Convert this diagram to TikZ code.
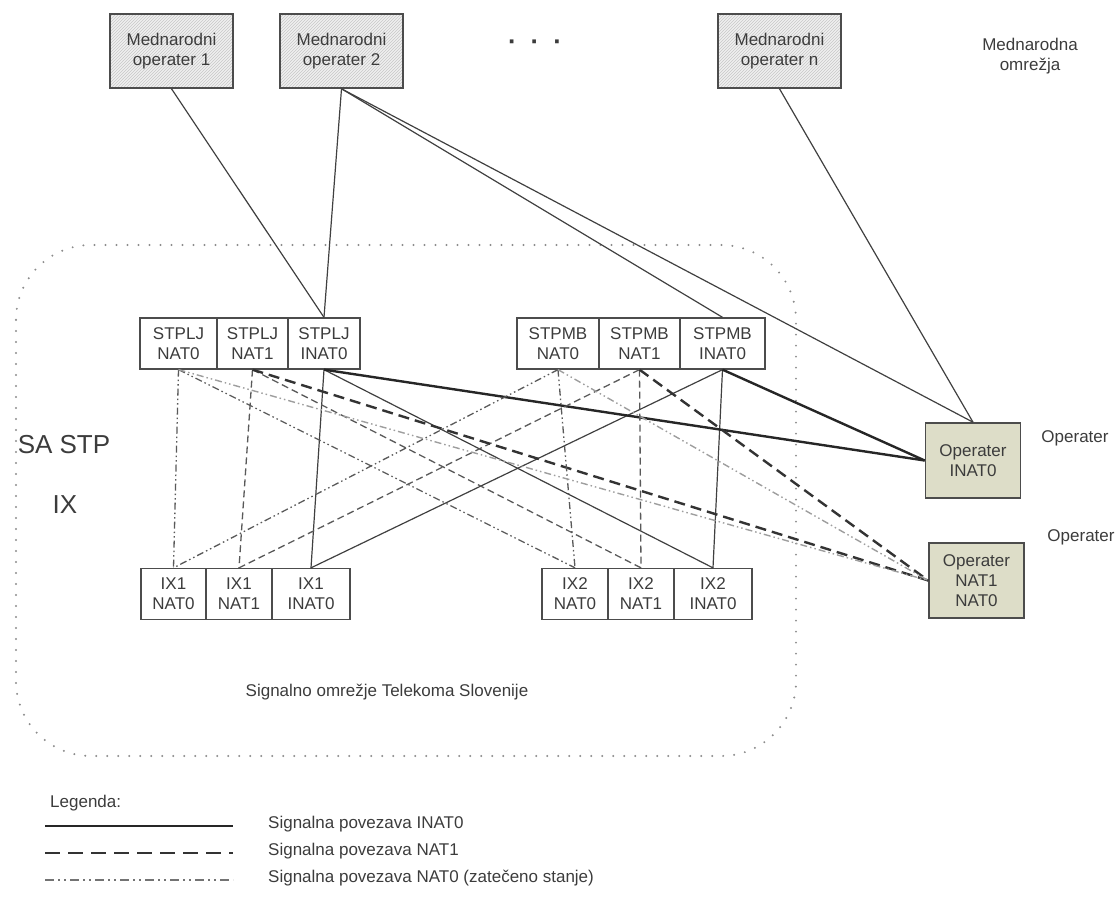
\documentclass[tikz,border=0pt]{standalone}
\usepackage{fontspec}
\setmainfont{Liberation Sans}
\usetikzlibrary{patterns}
\definecolor{opfill}{RGB}{221,221,200}
\definecolor{txt}{RGB}{60,60,60}
\begin{document}
\begin{tikzpicture}[x=1pt,y=-1pt,
  every node/.style={font=\fontsize{17}{20}\selectfont, text=txt, align=center, inner sep=0pt},
  intl/.style={draw=black!70, line width=1.6pt, preaction={fill=black!6}, pattern=north east lines, pattern color=black!22, minimum width=123pt, minimum height=74pt},
  cell/.style={draw=black!70, line width=1.3pt, fill=white, minimum height=51pt},
  opbox/.style={draw=black!70, line width=1.6pt, fill=opfill, minimum width=95pt, minimum height=75pt},
  bigl/.style={font=\fontsize{26}{30}\selectfont},
  linkthin/.style={draw=black!75, line width=1.2pt},
  linkthick/.style={draw=black!85, line width=2.4pt},
  nat1thin/.style={draw=black!65, line width=1.3pt, dash pattern=on 7pt off 4pt},
  nat1thick/.style={draw=black!80, line width=2.4pt, dash pattern=on 11pt off 6pt},
  nat0/.style={draw=black!65, line width=1.3pt, dash pattern=on 7pt off 3pt on 1.5pt off 3pt on 1.5pt off 3pt},
  nat0light/.style={draw=black!38, line width=1.4pt, dash pattern=on 7pt off 3pt on 1.5pt off 3pt on 1.5pt off 3pt},
  region/.style={draw=black!45, line width=2.2pt, line cap=round, dash pattern=on 0pt off 11pt, rounded corners=75pt}
]
\useasboundingbox (0,0) rectangle (1120,901);

% network region
\draw[region] (16,245) rectangle (796,756);

% international operators
\node[intl] (m1) at (171.5,51) {Mednarodni\\operater 1};
\node[intl] (m2) at (341.5,51) {Mednarodni\\operater 2};
\node[intl] (mn) at (779.5,51) {Mednarodni\\operater n};
\node (dots) at (535,45) {\fontsize{26}{26}\selectfont\textbf{·\hspace{14pt}·\hspace{14pt}·}};
\node (mlab) at (1030,56) {Mednarodna\\omrežja};

% STPLJ
\node[cell, minimum width=77pt] (lj1) at (178.5,343.5) {STPLJ\\NAT0};
\node[cell, minimum width=71pt] (lj2) at (252.5,343.5) {STPLJ\\NAT1};
\node[cell, minimum width=72pt] (lj3) at (324,343.5) {STPLJ\\INAT0};
% STPMB
\node[cell, minimum width=82pt] (mb1) at (558,343.5) {STPMB\\NAT0};
\node[cell, minimum width=81pt] (mb2) at (639.5,343.5) {STPMB\\NAT1};
\node[cell, minimum width=85pt] (mb3) at (722.5,343.5) {STPMB\\INAT0};
% IX1
\node[cell, minimum width=65pt] (ia1) at (173.5,594) {IX1\\NAT0};
\node[cell, minimum width=66pt] (ia2) at (239,594) {IX1\\NAT1};
\node[cell, minimum width=78pt] (ia3) at (311,594) {IX1\\INAT0};
% IX2
\node[cell, minimum width=66pt] (ib1) at (575,594) {IX2\\NAT0};
\node[cell, minimum width=66pt] (ib2) at (641,594) {IX2\\NAT1};
\node[cell, minimum width=78pt] (ib3) at (713,594) {IX2\\INAT0};

% operators
\node[opbox] (op1) at (973,460.5) {Operater\\INAT0};
\node[opbox] (op2) at (976.5,580.5) {Operater\\NAT1\\NAT0};
\node (opl1) at (1075,438) {Operater};
\node (opl2) at (1081,537) {Operater};

% labels
\node[bigl] (sastp) at (64,445) {SA STP};
\node[bigl] (ixl) at (65,505) {IX};
\node (net) at (387,692) {Signalno omrežje Telekoma Slovenije};

% international links
\draw[linkthin] (m1.south) -- (lj3.north);
\draw[linkthin] (m2.south) -- (lj3.north);
\draw[linkthin] (m2.south) -- (mb3.north);
\draw[linkthin] (m2.south) -- (op1.north);
\draw[linkthin] (mn.south) -- (op1.north);

% INAT0 links
\draw[linkthin] (lj3.south) -- (ia3.north);
\draw[linkthin] (lj3.south) -- (ib3.north);
\draw[linkthin] (mb3.south) -- (ia3.north);
\draw[linkthin] (mb3.south) -- (ib3.north);
\draw[linkthick] (lj3.south) -- (op1.west);
\draw[linkthick] (mb3.south) -- (op1.west);

% NAT1 links
\draw[nat1thin] (lj2.south) -- (ia2.north);
\draw[nat1thin] (lj2.south) -- (ib2.north);
\draw[nat1thin] (mb2.south) -- (ia2.north);
\draw[nat1thin] (mb2.south) -- (ib2.north);
\draw[nat1thick] (lj2.south) -- (op2.west);
\draw[nat1thick] (mb2.south) -- (op2.west);

% NAT0 links
\draw[nat0] (lj1.south) -- (ia1.north);
\draw[nat0] (lj1.south) -- (ib1.north);
\draw[nat0] (mb1.south) -- (ia1.north);
\draw[nat0] (mb1.south) -- (ib1.north);
\draw[nat0light] (lj1.south) -- (op2.west);
\draw[nat0light] (mb1.south) -- (op2.west);

% legend
\node[anchor=west] (leg) at (50,803) {Legenda:};
\coordinate (la1) at (45,826); \coordinate (lb1) at (233,826);
\coordinate (la2) at (45,853); \coordinate (lb2) at (233,853);
\coordinate (la3) at (45,880); \coordinate (lb3) at (233,880);
\draw[linkthick] (la1) -- (lb1);
\draw[draw=black!80, line width=2.6pt, dash pattern=on 15pt off 8pt] (la2) -- (lb2);
\draw[draw=black!55, line width=1.8pt, dash pattern=on 9pt off 4pt on 2pt off 4pt on 2pt off 4pt] (la3) -- (lb3);
\node[anchor=west] (lt1) at (268,824) {Signalna povezava INAT0};
\node[anchor=west] (lt2) at (268,851) {Signalna povezava NAT1};
\node[anchor=west] (lt3) at (268,878) {Signalna povezava NAT0 (zatečeno stanje)};
\end{tikzpicture}
\end{document}
